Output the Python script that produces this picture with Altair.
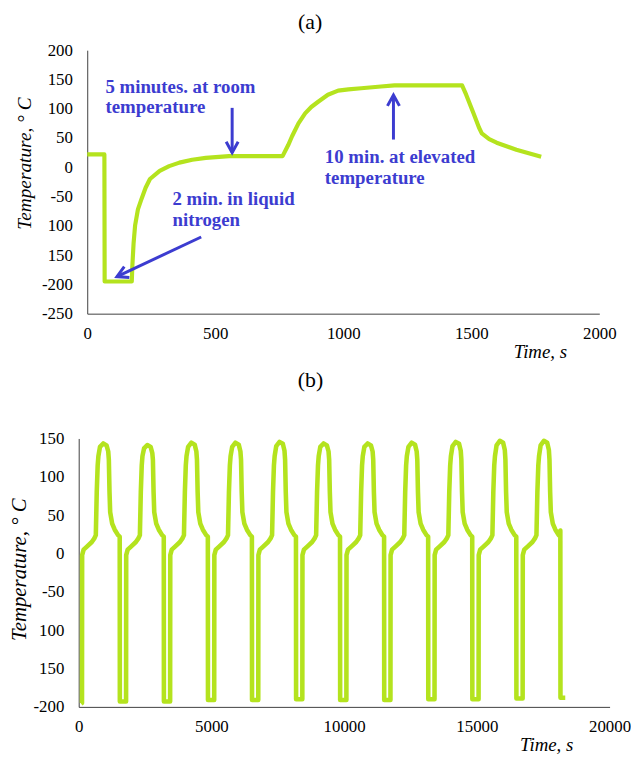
import altair as alt
import pandas as pd

# ---------------- panel (a): one thermal cycle ----------------
time_a = [0, 67, 68, 174, 176, 181, 187, 198, 212, 228, 245, 283, 320, 360, 410, 463, 554, 763,
          785, 800, 825, 851, 875, 902, 940, 980, 1020, 1070, 1147, 1200, 1464,
          1480, 1509, 1530, 1541, 1570, 1599, 1676, 1773]
temp_a = [22, 22, -195, -195, -170, -130, -99, -72, -54, -35, -20, -6, 2, 8, 13, 16, 19, 19,
          38, 53, 75, 92, 103, 112, 124, 131, 133, 135, 138, 140, 140,
          124, 92, 68, 58, 48, 42, 30, 18]

note_text = ["5 minutes. at room\ntemperature",
             "2 min. in liquid\nnitrogen",
             "10 min. at elevated\ntemperature"]
note_t = [71, 333, 928]
note_T = [127.5, -64, 7]

arrow_t_from = [566, 445, 1196]
arrow_T_from = [101.5, -119, 47.4]
arrow_t_to = [566, 116, 1196]
arrow_T_to = [25, -186.7, 123.5]

# ---------------- panel (b): eleven cycles ----------------
time_b = [
    90,
    125, 130, 185, 310, 495, 595, 645, 680, 715, 742, 802, 925, 1050, 1113, 1136, 1161, 1186, 1261, 1358, 1483, 1545, 1550,
    1785, 1790, 1845, 1970, 2155, 2255, 2305, 2340, 2375, 2402, 2462, 2585, 2710, 2773, 2796, 2821, 2846, 2921, 3018, 3143, 3205, 3210,
    3445, 3450, 3505, 3630, 3815, 3915, 3965, 4000, 4035, 4062, 4122, 4245, 4370, 4433, 4456, 4481, 4506, 4581, 4678, 4803, 4865, 4870,
    5105, 5110, 5165, 5290, 5475, 5575, 5625, 5660, 5695, 5722, 5782, 5905, 6030, 6093, 6116, 6141, 6166, 6241, 6338, 6463, 6525, 6530,
    6765, 6770, 6825, 6950, 7135, 7235, 7285, 7320, 7355, 7382, 7442, 7565, 7690, 7753, 7776, 7801, 7826, 7901, 7998, 8123, 8185, 8190,
    8425, 8430, 8485, 8610, 8795, 8895, 8945, 8980, 9015, 9042, 9102, 9225, 9350, 9413, 9436, 9461, 9486, 9561, 9658, 9783, 9845, 9850,
    10085, 10090, 10145, 10270, 10455, 10555, 10605, 10640, 10675, 10702, 10762, 10885, 11010, 11073, 11096, 11121, 11146, 11221, 11318, 11443, 11505, 11510,
    11745, 11750, 11805, 11930, 12115, 12215, 12265, 12300, 12335, 12362, 12422, 12545, 12670, 12733, 12756, 12781, 12806, 12881, 12978, 13103, 13165, 13170,
    13405, 13410, 13465, 13590, 13775, 13875, 13925, 13960, 13995, 14022, 14082, 14205, 14330, 14393, 14416, 14441, 14466, 14541, 14638, 14763, 14825, 14830,
    15065, 15070, 15125, 15250, 15435, 15535, 15585, 15620, 15655, 15682, 15742, 15865, 15990, 16053, 16076, 16101, 16126, 16201, 16298, 16423, 16485, 16490,
    16725, 16730, 16785, 16910, 17095, 17195, 17245, 17280, 17315, 17342, 17402, 17525, 17650, 17713, 17736, 17761, 17786, 17861, 17958, 18083, 18145, 18150,
    18330,
]
temp_b = [
    -196,
    -195, -2, 5, 9, 15, 20, 24, 80, 115, 127, 139, 143.5, 141, 133, 122, 80, 54, 39, 31, 24, 22, -193,
    -193, -2, 5, 9, 15, 20, 24, 80, 115, 127, 137, 141.5, 139, 131, 122, 80, 54, 39, 31, 24, 22, -193,
    -193, -2, 5, 9, 15, 20, 24, 80, 115, 127, 139, 144.5, 142, 133, 122, 80, 54, 39, 31, 24, 22, -191,
    -191, -2, 5, 9, 15, 20, 24, 80, 115, 127, 139, 144.5, 142, 133, 122, 80, 54, 39, 31, 24, 22, -191,
    -191, -2, 5, 9, 15, 20, 24, 80, 115, 127, 140, 145.5, 143, 134, 122, 80, 54, 39, 31, 24, 22, -190,
    -190, -2, 5, 9, 15, 20, 24, 80, 115, 127, 139, 143.5, 141, 133, 122, 80, 54, 39, 31, 24, 22, -191,
    -191, -2, 5, 9, 15, 20, 24, 80, 115, 127, 139, 143.5, 141, 133, 122, 80, 54, 39, 31, 24, 22, -191,
    -191, -2, 5, 9, 15, 20, 24, 80, 115, 127, 139, 144.5, 142, 133, 122, 80, 54, 39, 31, 24, 22, -190,
    -190, -2, 5, 9, 15, 20, 24, 80, 115, 127, 140, 145.5, 143, 134, 122, 80, 54, 39, 31, 24, 22, -190,
    -190, -2, 5, 9, 15, 20, 24, 80, 115, 127, 141, 147, 144.5, 135, 122, 80, 54, 39, 31, 24, 22, -189,
    -189, -2, 5, 9, 15, 20, 24, 80, 115, 127, 141, 147, 144.5, 135, 122, 80, 54, 39, 31, 24, 30, -188,
    -188,
]

ticks_a_x = [0, 500, 1000, 1500, 2000]
ticks_a_y = [-250, -200, -150, -100, -50, 0, 50, 100, 150, 200]
ticks_b_x = [0, 5000, 10000, 15000, 20000]
ticks_b_y = [-200, -150, -100, -50, 0, 50, 100, 150]

SERIF = "Liberation Serif"
GREEN = "#b4e31e"
BLUE = "#3c3cd0"
AXIS = "#404040"
LABEL_EXPR = "(datum.value == -100 || datum.value == -150) ? '' + abs(datum.value) : '' + datum.value"

df_a = pd.DataFrame({"t": time_a, "T": temp_a, "i": list(range(len(time_a)))})
df_b = pd.DataFrame({"t": time_b, "T": temp_b, "i": list(range(len(time_b)))})
df_note = pd.DataFrame({"t": note_t, "T": note_T, "label": note_text})
df_arrow = pd.DataFrame({"t": arrow_t_from, "T": arrow_T_from,
                         "t2": arrow_t_to, "T2": arrow_T_to,
                         "k": list(range(len(arrow_t_from)))})
df_head = pd.DataFrame({"t": arrow_t_to, "T": arrow_T_to, "k": list(range(len(arrow_t_to)))})


def x_axis(values, title_x):
    return alt.Axis(values=values, title="Time, s", format="d", labelFlush=False,
                    labelOverlap=False, labelPadding=12, titlePadding=1,
                    titleX=title_x, titleAlign="center")


def y_axis(values, title_y, title_size, title_pad):
    return alt.Axis(values=values, title="Temperature, \u00b0 C", labelExpr=LABEL_EXPR,
                    labelOverlap=False, labelPadding=15, titlePadding=title_pad,
                    titleY=title_y, titleFontSize=title_size, tickCount=10)


# panel (a) plot is 517 px wide; the view is a little wider so it sits
# further right than panel (b) when both are centred
xa = alt.X("t:Q", scale=alt.Scale(domain=[0, 2000], nice=False, range=[0, 517]),
           axis=x_axis(ticks_a_x, 457))
ya = alt.Y("T:Q", scale=alt.Scale(domain=[-250, 200], nice=False), axis=y_axis(ticks_a_y, 114, 19.5, 7))

line_a = alt.Chart(df_a).mark_line(color=GREEN, strokeWidth=4.2, strokeJoin="round").encode(
    x=xa, y=ya, order="i:Q")

rules = alt.Chart(df_arrow).mark_rule(color=BLUE, strokeWidth=3).encode(
    x=xa, y=ya, x2="t2:Q", y2="T2:Q")

heads = []
for k, ang in enumerate([0, 65, 180]):
    heads.append(
        alt.Chart(df_head).transform_filter(alt.datum.k == k).mark_point(
            shape="M-0.55,-1L0,0L0.55,-1", size=484, filled=False, strokeWidth=3,
            color=BLUE, opacity=1, angle=ang).encode(x=xa, y=ya))

notes = alt.Chart(df_note).mark_text(
    align="left", baseline="alphabetic", font=SERIF, fontWeight="bold", fontSize=19,
    lineHeight=21, color=BLUE, lineBreak="\n").encode(x=xa, y=ya, text="label:N")

panel_a = alt.layer(line_a, rules, *heads, notes).properties(
    width=540, height=266,
    title=alt.TitleParams("(a)", font=SERIF, fontSize=22, fontWeight="normal",
                          color="black", anchor="middle", dx=-45, offset=7))

xb = alt.X("t:Q", scale=alt.Scale(domain=[0, 20000], nice=False), axis=x_axis(ticks_b_x, 472))
yb = alt.Y("T:Q", scale=alt.Scale(domain=[-200, 150], nice=False), axis=y_axis(ticks_b_y, 132, 21, 4))

panel_b = alt.Chart(df_b).mark_line(color=GREEN, strokeWidth=4.6, strokeJoin="round").encode(
    x=xb, y=yb, order="i:Q").properties(
    width=536, height=271,
    title=alt.TitleParams("(b)", font=SERIF, fontSize=22, fontWeight="normal",
                          color="black", anchor="middle", dx=-34, offset=38))

chart = alt.vconcat(panel_a, panel_b, spacing=8, center=True).properties(
    padding={"left": 0, "top": 0, "right": 0, "bottom": 0}
).configure_view(stroke=None).configure_axis(
    domainColor=AXIS, domainWidth=1, ticks=False, grid=False, labelOverlap=False,
    labelFont=SERIF, labelFontSize=17, labelColor="black",
    titleFont=SERIF, titleFontSize=19, titleFontStyle="italic", titleFontWeight="normal",
    titleColor="black"
)

chart.save("out.html", embed_options={"renderer": "svg", "actions": False})
